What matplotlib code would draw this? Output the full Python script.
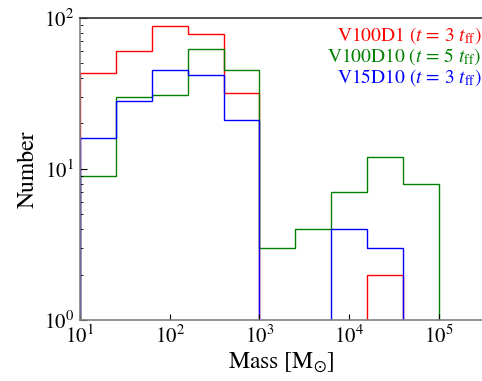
import numpy as np
import matplotlib
matplotlib.use("Agg")
import matplotlib.pyplot as plt

plt.rcParams['font.family'] = 'STIXGeneral'
plt.rcParams['mathtext.fontset'] = 'stix'

bin_edges_log = [1.0, 1.4, 1.8, 2.2, 2.6, 3.0, 3.4, 3.8, 4.2, 4.6, 5.0]
labels = [r"V100D1 ($t$ = 3 $t_{\rm ff}$)",
          r"V100D10 ($t$ = 5 $t_{\rm ff}$)",
          r"V15D10 ($t$ = 3 $t_{\rm ff}$)"]
v100d1 = [43, 60, 88, 78, 32, 0, 0, 0, 2, 0]
v100d10 = [9, 30, 31, 62, 45, 3, 4, 7, 12, 8]
v15d10 = [16, 28, 45, 42, 21, 0, 0, 4, 3, 0]
colors = ['red', 'green', 'blue']

edges = 10.0 ** np.array(bin_edges_log)

fig = plt.figure(figsize=(4.82, 3.81), dpi=100)
ax = fig.add_axes([0.166, 0.16, 0.834, 0.793])
floor = 0.5
for vals, c in zip([v100d1, v100d10, v15d10], colors):
    v = np.array(vals, dtype=float)
    v = np.where(v > 0, v, floor)
    ax.stairs(v, edges, baseline=floor, color=c, lw=1.0)

ax.set_xscale('log')
ax.set_yscale('log')
ax.set_xlim(10, 10 ** 5.48)
ax.set_ylim(1, 100)
ax.set_xticks([1e1, 1e2, 1e3, 1e4, 1e5])
ax.xaxis.set_minor_locator(matplotlib.ticker.NullLocator())
ax.tick_params(axis='both', which='both', direction='in', labelsize=15, pad=4)
ax.tick_params(axis='x', which='major', length=4, color='black', top=False)
ax.tick_params(axis='y', which='major', length=5, right=False)
ax.tick_params(axis='y', which='minor', length=2.5, right=False)
ax.spines['bottom'].set_color('gray')
ax.spines['left'].set_color('gray')
ax.spines['top'].set_color('#333333')
ax.spines['right'].set_visible(False)
for s in ax.spines.values():
    s.set_linewidth(1.2)

ax.set_xlabel(r"Mass [M$_{\odot}$]", fontsize=17, labelpad=2)
ax.set_ylabel("Number", fontsize=17, labelpad=4)

for i, (lab, c) in enumerate(zip(labels, colors)):
    ax.text(0.998, 0.976 - i * 0.07, lab, color=c, fontsize=14,
            ha='right', va='top', transform=ax.transAxes)

fig.savefig('out.png', dpi=100)
